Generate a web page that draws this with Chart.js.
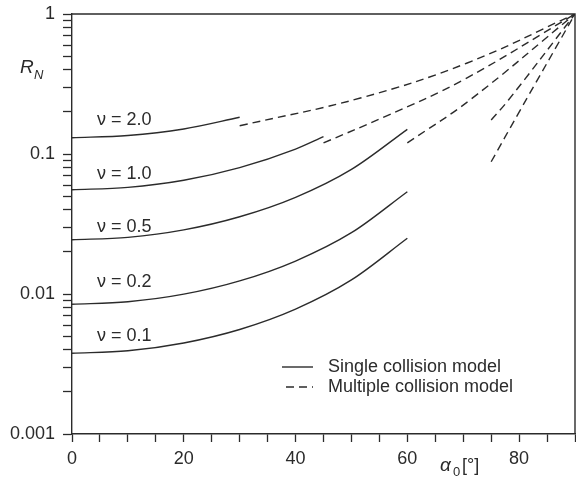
<!DOCTYPE html>
<html>
<head>
<meta charset="utf-8">
<script src="https://cdn.jsdelivr.net/npm/chart.js@4/dist/chart.umd.min.js"></script>
<style>
html,body{margin:0;padding:0;background:#fff;}
canvas{display:block;}
</style>
</head>
<body>
<canvas id="c" width="576" height="485"></canvas>
<script>
// ---- data ----
const xTickLabels = ['0', '20', '40', '60', '80'];
const yTickLabels = ['0.001', '0.01', '0.1', '1'];
const yDecades = [0.001, 0.01, 0.1, 1];

// single collision model (solid), alpha0 [deg] vs R_N
const solidNu20 = [[0, 0.1307], [10, 0.1355], [20, 0.151], [30, 0.183]];
const solidNu10 = [[0, 0.0556], [10, 0.0578], [20, 0.065], [30, 0.080], [40, 0.1085], [45, 0.133]];
const solidNu05 = [[0, 0.0244], [10, 0.0254], [20, 0.0287], [30, 0.0356], [40, 0.049], [50, 0.0776], [60, 0.150]];
const solidNu02 = [[0, 0.00844], [10, 0.0088], [20, 0.00997], [30, 0.0124], [40, 0.0172], [50, 0.0274], [60, 0.0538]];
const solidNu01 = [[0, 0.00377], [10, 0.00393], [20, 0.00447], [30, 0.00558], [40, 0.0078], [50, 0.0126], [60, 0.025]];

// multiple collision model (dashed)
const dashNu20 = [[30, 0.159], [51.6, 0.251], [70.6, 0.445], [90, 1]];
const dashNu10 = [[45, 0.120], [56.0, 0.185], [70.0, 0.338], [90, 1]];
const dashNu05 = [[60, 0.120], [71.2, 0.243], [90, 1]];
const dashNu02 = [[75, 0.175], [78.1, 0.243], [90, 1]];
const dashNu01 = [[75, 0.088], [79.9, 0.196], [90, 1]];

const curveLabels = ['\u03bd = 2.0', '\u03bd = 1.0', '\u03bd = 0.5', '\u03bd = 0.2', '\u03bd = 0.1'];
const legendLabels = ['Single collision model', 'Multiple collision model'];

// ---- styling ----
const INK = '#2b2b2b';
const FONT = '"Liberation Sans", Arial, Helvetica, sans-serif';

function pts(a) { return a.map(p => ({x: p[0], y: p[1]})); }
function solid(a) {
  return {data: pts(a), borderColor: INK, borderWidth: 1.4, pointRadius: 0, fill: false,
          cubicInterpolationMode: 'monotone'};
}
function dashed(a) {
  return {data: pts(a), borderColor: INK, borderWidth: 1.4, pointRadius: 0, fill: false,
          borderDash: [8, 5], tension: 0.4};
}

const annotations = {
  id: 'annotations',
  afterDraw(chart) {
    const ctx = chart.ctx;
    const ca = chart.chartArea;
    ctx.save();
    ctx.strokeStyle = INK;
    ctx.lineWidth = 1.4;
    ctx.beginPath();
    ctx.moveTo(ca.left, ca.top);
    ctx.lineTo(ca.right, ca.top);
    ctx.lineTo(ca.right, ca.bottom);
    ctx.stroke();

    ctx.fillStyle = INK;
    ctx.textBaseline = 'middle';
    ctx.textAlign = 'left';
    ctx.font = '18px ' + FONT;
    const ly = [120, 174, 227, 282, 336];
    curveLabels.forEach((t, i) => ctx.fillText(t, 97, ly[i]));

    // legend
    ctx.lineWidth = 1.4;
    ctx.beginPath();
    ctx.moveTo(282, 367); ctx.lineTo(313, 367); ctx.stroke();
    ctx.setLineDash([8, 5]);
    ctx.beginPath();
    ctx.moveTo(286, 387); ctx.lineTo(313, 387); ctx.stroke();
    ctx.setLineDash([]);
    ctx.fillText(legendLabels[0], 328, 367);
    ctx.fillText(legendLabels[1], 328, 387);

    // y title R_N
    ctx.font = 'italic 19px ' + FONT;
    ctx.fillText('R', 20, 68);
    ctx.font = 'italic 13px ' + FONT;
    ctx.fillText('N', 34, 75);

    // x title alpha_0 [deg]
    ctx.font = 'italic 19px ' + FONT;
    ctx.fillText('\u03b1', 440, 466);
    ctx.font = '13px ' + FONT;
    ctx.fillText('0', 453, 472);
    ctx.font = '18px ' + FONT;
    ctx.fillText('[\u00b0]', 462, 466);
    ctx.restore();
  }
};

function noPad(s) { s.paddingLeft = 0; s.paddingRight = 0; s.paddingTop = 0; s.paddingBottom = 0; }

new Chart(document.getElementById('c'), {
  type: 'line',
  data: {
    datasets: [
      solid(solidNu20), solid(solidNu10), solid(solidNu05), solid(solidNu02), solid(solidNu01),
      dashed(dashNu20), dashed(dashNu10), dashed(dashNu05), dashed(dashNu02), dashed(dashNu01)
    ]
  },
  options: {
    responsive: false,
    animation: false,
    devicePixelRatio: 1,
    layout: {padding: {top: 14, right: 1, left: 0, bottom: 0}},
    plugins: {legend: {display: false}, tooltip: {enabled: false}},
    scales: {
      x: {
        type: 'linear', min: 0, max: 90,
        afterFit(s) { s.height = 51; noPad(s); },
        ticks: {
          stepSize: 5, autoSkip: false, maxRotation: 0, padding: 6,
          color: INK, font: {size: 18, family: FONT},
          callback(v) { return (v % 20 === 0) ? xTickLabels[v / 20] : ''; }
        },
        grid: {drawOnChartArea: false, tickLength: 8, tickColor: INK, tickWidth: 1.3},
        border: {display: true, color: INK, width: 1.4}
      },
      y: {
        type: 'logarithmic', min: 0.001, max: 1,
        afterFit(s) { s.width = 72; noPad(s); },
        afterBuildTicks(s) {
          const t = [];
          for (let d = 0; d < yDecades.length - 1; d++) {
            for (let m = 1; m <= 9; m++) t.push({value: yDecades[d] * m});
          }
          t.push({value: 1});
          s.ticks = t;
        },
        ticks: {
          autoSkip: false, padding: 8,
          color: INK, font: {size: 18, family: FONT},
          callback(v) {
            for (let i = 0; i < yDecades.length; i++) {
              if (Math.abs(v - yDecades[i]) / yDecades[i] < 1e-6) return yTickLabels[i];
            }
            return '';
          }
        },
        grid: {drawOnChartArea: false, tickLength: 9, tickColor: INK, tickWidth: 1.3},
        border: {display: true, color: INK, width: 1.4}
      }
    }
  },
  plugins: [annotations]
});
</script>
</body>
</html>
